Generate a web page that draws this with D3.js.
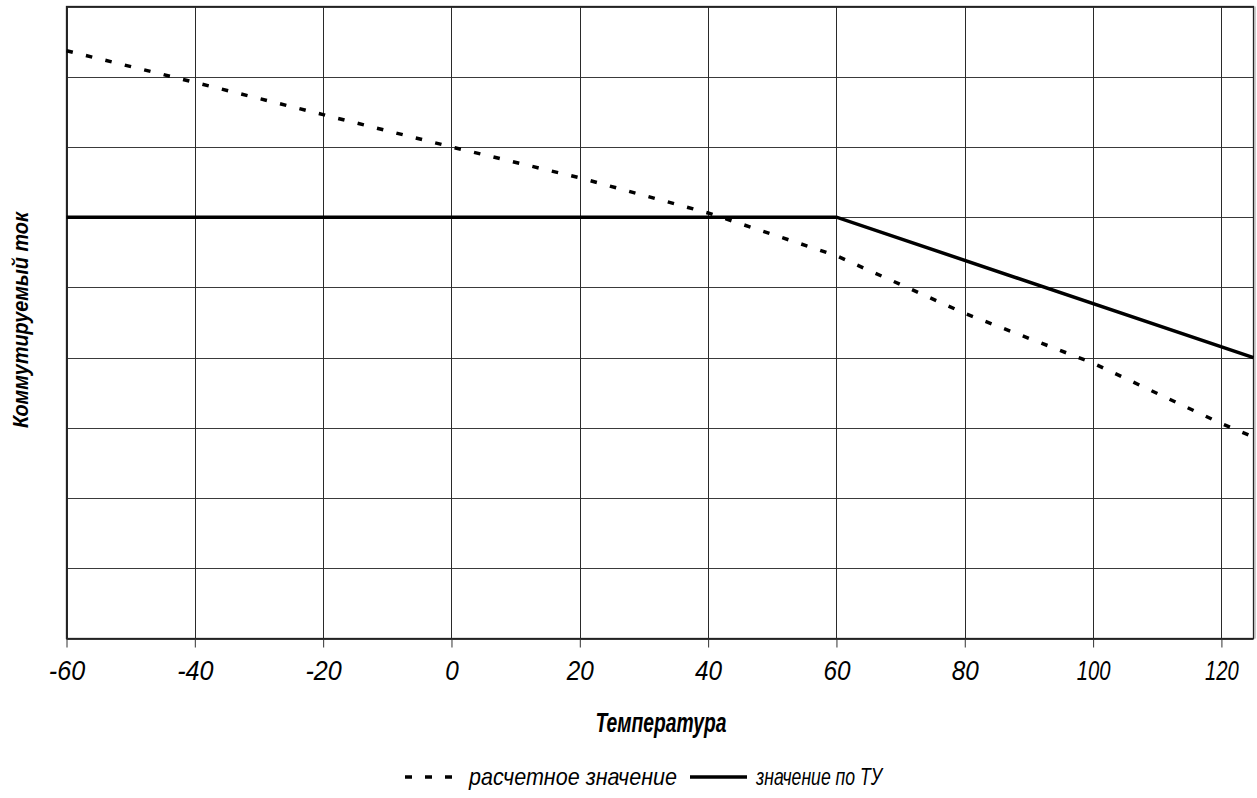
<!DOCTYPE html>
<html>
<head>
<meta charset="utf-8">
<script src="https://cdn.jsdelivr.net/npm/d3@7"></script>
<style>
  html, body { margin: 0; padding: 0; background: #fff; }
  svg text { font-family: "Liberation Sans", Arial, sans-serif; font-style: italic; fill: #000; }
</style>
</head>
<body>
<svg id="chart" width="1257" height="798"></svg>
<script>
// ---- data ----
const xTicks = [-60, -40, -20, 0, 20, 40, 60, 80, 100, 120];
const yGrid = [0, 1, 2, 3, 4, 5, 6, 7, 8, 9];
const calcTemps  = [-60, -40, -20, 0, 20, 40, 60, 80, 100, 120, 125];
const calcValues = [8.37, 7.92, 7.46, 7.00, 6.56, 6.06, 5.45, 4.63, 3.92, 3.06, 2.87];
const specTemps  = [-60, 60, 125];
const specValues = [6.0, 6.0, 4.0];
const seriesNames = ["расчетное значение", "значение по ТУ"];
const xTitle = "Температура";
const yTitle = "Коммутируемый ток";

// ---- layout ----
const svg = d3.select("#chart");
const pLeft = 66.5, pRight = 1253.5, pTop = 6.5, pBottom = 638.5;
const x = d3.scaleLinear().domain([-60, 125]).range([pLeft, pRight]);
const y = d3.scaleLinear().domain([0, 9]).range([pBottom, pTop]);

// grid
svg.append("g").selectAll("line").data(yGrid).join("line")
  .attr("x1", pLeft).attr("x2", pRight)
  .attr("y1", d => Math.round(y(d)) + 0.5).attr("y2", d => Math.round(y(d)) + 0.5)
  .attr("stroke", "#3a3a3a").attr("stroke-width", 1);

svg.append("g").selectAll("line").data(xTicks).join("line")
  .attr("x1", d => Math.round(x(d)) + 0.5).attr("x2", d => Math.round(x(d)) + 0.5)
  .attr("y1", pTop).attr("y2", pBottom)
  .attr("stroke", "#2a2a2a").attr("stroke-width", 1);

// frame
svg.append("rect").attr("x", pLeft).attr("y", pTop)
  .attr("width", pRight - pLeft).attr("height", pBottom - pTop)
  .attr("fill", "none").attr("stroke", "#222").attr("stroke-width", 1.3);
svg.append("line").attr("x1", pRight + 1.5).attr("x2", pRight + 1.5)
  .attr("y1", pTop).attr("y2", pBottom).attr("stroke", "#999").attr("stroke-width", 1);

// x axis
const xAxis = d3.axisBottom(x).tickValues(xTicks).tickSize(9).tickPadding(20)
  .tickFormat(d => d);
const gx = svg.append("g").attr("transform", `translate(0,${pBottom})`).call(xAxis);
gx.select(".domain").remove();
gx.selectAll(".tick line").attr("stroke", "#333");
gx.selectAll(".tick text")
  .attr("font-size", 27).attr("font-family", "Liberation Sans, Arial, sans-serif")
  .attr("font-style", "italic").attr("fill", "#000").attr("dy", "0.45em");
gx.selectAll(".tick text").each(function (d) {
  const len = this.getComputedTextLength();
  const k = String(d).includes("1") ? 0.75 : (String(d).startsWith("-") ? 0.93 : 0.9);
  d3.select(this).attr("textLength", len * k).attr("lengthAdjust", "spacingAndGlyphs");
});

// lines
const line = d3.line().x(d => x(d[0])).y(d => y(d[1]));
svg.append("path")
  .datum(calcTemps.map((t, i) => [t, calcValues[i]]))
  .attr("d", line).attr("fill", "none").attr("stroke", "#000")
  .attr("stroke-width", 3.5).attr("stroke-dasharray", "6.5,13.5");
svg.append("path")
  .datum(specTemps.map((t, i) => [t, specValues[i]]))
  .attr("d", line).attr("fill", "none").attr("stroke", "#000")
  .attr("stroke-width", 3.5);

// axis titles
svg.append("text").attr("x", 661).attr("y", 732).attr("text-anchor", "middle")
  .attr("font-size", 27).attr("font-weight", "bold").text(xTitle)
  .attr("textLength", 131).attr("lengthAdjust", "spacingAndGlyphs");

svg.append("text").attr("transform", "translate(28,320) rotate(-90)")
  .attr("text-anchor", "middle")
  .attr("font-size", 22).attr("font-weight", "bold").text(yTitle)
  .attr("textLength", 216).attr("lengthAdjust", "spacingAndGlyphs");

// legend
const ly = 777;
const lg = svg.append("g");
lg.append("line").attr("x1", 405).attr("x2", 455).attr("y1", ly).attr("y2", ly)
  .attr("stroke", "#000").attr("stroke-width", 3.5).attr("stroke-dasharray", "7,13");
lg.append("text").attr("x", 469).attr("y", ly + 8).attr("font-size", 24).text(seriesNames[0])
  .attr("textLength", 208).attr("lengthAdjust", "spacingAndGlyphs");
lg.append("line").attr("x1", 690).attr("x2", 747).attr("y1", ly).attr("y2", ly)
  .attr("stroke", "#000").attr("stroke-width", 3.5);
lg.append("text").attr("x", 756).attr("y", ly + 8).attr("font-size", 24).text(seriesNames[1])
  .attr("textLength", 126).attr("lengthAdjust", "spacingAndGlyphs");
</script>
</body>
</html>
